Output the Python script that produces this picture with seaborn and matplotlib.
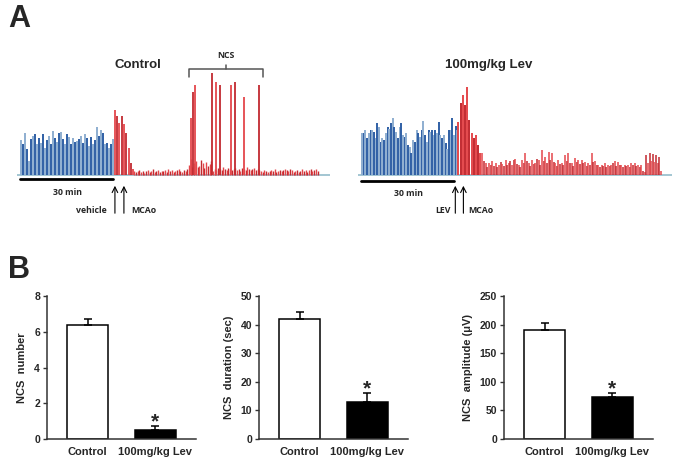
import matplotlib
matplotlib.use("Agg")
import matplotlib.pyplot as plt
import seaborn as sns
import numpy as np

sns.set_style("white")
plt.rcParams['font.family'] = ['Liberation Sans', 'DejaVu Sans']

# ---------------- data ----------------
# panel A traces, spike heights (arbitrary units)
ctrl_base = [35, 31, 42, 26, 14, 36, 39, 41, 31, 37, 32, 41, 27, 35, 39, 31,
             44, 37, 33, 42, 43, 36, 31, 41, 38, 31, 37, 33, 34, 36, 39, 32,
             41, 37, 29, 38, 31, 35, 48, 39, 45, 42, 31, 32, 27, 31, 36]
ctrl_burst = [65, 59, 52, 59, 51, 42, 27, 12, 6]
ctrl_noise = [4, 3, 4, 5, 3, 4, 2, 4, 5, 3, 4, 6, 3, 4, 5, 3, 4, 4, 5, 3, 6, 4,
              5, 3, 4, 5, 6, 4, 3, 5, 4, 6,
              10, 16, 8, 12, 14, 8, 9, 15, 12, 7, 13, 9, 11, 14,
              4, 6, 5, 7, 6, 5, 8, 6, 5, 7, 6, 5, 6, 7, 5, 6, 4, 7, 6, 5, 8, 6,
              5, 6, 7, 5, 6, 5,
              4, 3, 5, 4, 3, 4, 5, 4, 6, 3, 4, 5, 4, 5, 6, 5, 4, 6, 5, 3, 4, 5,
              3, 4, 6, 4, 5, 3, 5, 6, 4, 5, 6, 4]
ncs_t = [55.2, 55.7, 56.4, 61.9, 63.1, 64.5, 68.2, 69.5, 72.2, 77.1]
ncs_h = [57, 83, 90, 102, 93, 90, 90, 93, 78, 90]

lev_base = [42, 42, 45, 37, 42, 45, 45, 43, 37, 52, 48, 33, 37, 35, 42, 48,
            46, 52, 57, 48, 43, 37, 48, 52, 40, 38, 42, 30, 28, 22, 35, 33,
            45, 42, 38, 45, 54, 40, 33, 45, 43, 45, 40, 45, 42, 53, 40, 37,
            40, 32, 26, 45, 45, 57, 40, 49, 45]
lev_burst = [53, 72, 80, 70, 88, 55, 42, 37, 40, 30, 22]
lev_noise = [22, 14, 12, 8, 12, 10, 14, 9, 12, 8, 10, 13, 11, 9, 15, 10, 12, 14,
             10, 15, 16, 11, 10, 8, 15, 12, 22, 14, 12, 9, 15, 11, 12, 16, 15,
             10, 25, 14, 18, 12, 23, 15, 22, 13, 12, 9, 15, 11, 12, 10, 20, 14,
             22, 12, 12, 9, 17, 13, 15, 11, 15, 12, 13, 9, 12, 10, 22, 13, 14,
             10, 10, 8, 10, 9, 12, 8, 10, 9, 10, 12, 14, 9, 13, 10, 10, 8, 10,
             9, 10, 8, 12, 10, 12, 9, 10, 8, 10, 4, 3, 20, 12, 22, 14, 21, 13,
             20, 12, 18, 4]

# panel B bars
groups = ['Control', '100mg/kg Lev']
ncs_number = [6.4, 0.5]
ncs_number_err = [0.3, 0.2]
ncs_duration = [42, 13]
ncs_duration_err = [2.5, 3]
ncs_amplitude = [191, 74]
ncs_amplitude_err = [12, 6]

W, H = 683, 465
fig = plt.figure(figsize=(W / 100, H / 100), dpi=100)

BLUE = ['#8eaed0', '#2f5fa5']
RED = ['#e4474b', '#c22a30']
BASE = '#93bccb'


def spikes(ax, t, h, pal, lw=1.0):
    cols = [pal[i % 2] for i in range(len(h))]
    ax.vlines(t, 0, h, colors=cols, linewidth=lw)


def trace_axes(px0, px1):
    ax = fig.add_axes([px0 / W, 1 - 178 / H, (px1 - px0) / W, 128 / H])
    ax.set_xlim(-1, 100)
    ax.set_ylim(-3, 125)
    ax.axis('off')
    ax.axhline(0, color=BASE, lw=1.2, zorder=0)
    return ax


small = dict(fontsize=6.3, fontweight='bold', family=['Open Sans', 'DejaVu Sans'])

# ---- control trace ----
ax = trace_axes(17, 330)
spikes(ax, np.linspace(0.3, 30, len(ctrl_base)), ctrl_base, BLUE, 1.4)
spikes(ax, np.linspace(30.6, 36.5, len(ctrl_burst)), ctrl_burst, RED, 1.3)
spikes(ax, np.linspace(36.8, 96, len(ctrl_noise)), ctrl_noise, RED, 1.0)
spikes(ax, ncs_t, ncs_h, RED, 1.3)
ax.text(38, 110, 'Control', ha='center', va='center', fontsize=9.5,
        fontweight='bold')
b0, b1 = min(ncs_t) - 0.8, max(ncs_t) + 1.2
bm = (b0 + b1) / 2
ax.plot([b0, b0, b1, b1], [98, 106, 106, 98], color='#555555', lw=1.1,
        clip_on=False)
ax.plot([bm, bm], [106, 110], color='#555555', lw=1.1, clip_on=False)
ax.text(bm, 120, 'NCS', ha='center', va='center', **small)
ax.plot([0, 30], [-4, -4], color='black', lw=2, clip_on=False)
ax.text(15.2, -17, '30 min', ha='center', va='center', **small)
for xa in [30.6, 33.5]:
    ax.annotate('', xy=(xa, -8), xytext=(xa, -41),
                arrowprops=dict(arrowstyle='->', lw=0.8, color='black'),
                annotation_clip=False)
ax.text(27.8, -35, 'vehicle', ha='right', va='center', **small)
ax.text(35.8, -35, 'MCAo', ha='left', va='center', **small)

# ---- levetiracetam trace ----
ax = trace_axes(358, 672)
spikes(ax, np.linspace(0.3, 31, len(lev_base)), lev_base, BLUE, 1.4)
spikes(ax, np.linspace(31.3, 38.4, len(lev_burst)), lev_burst, RED, 1.4)
spikes(ax, np.linspace(39, 96.5, len(lev_noise)), lev_noise, RED, 1.1)
ax.text(41, 110, '100mg/kg Lev', ha='center', va='center', fontsize=9.5,
        fontweight='bold')
ax.plot([0, 30], [-6, -6], color='black', lw=2, clip_on=False)
ax.text(15.2, -18, '30 min', ha='center', va='center', **small)
for xa in [30.3, 32.9]:
    ax.annotate('', xy=(xa, -8), xytext=(xa, -41),
                arrowprops=dict(arrowstyle='->', lw=0.8, color='black'),
                annotation_clip=False)
ax.text(28.8, -35, 'LEV', ha='right', va='center', **small)
ax.text(34.5, -35, 'MCAo', ha='left', va='center', **small)

# ---- bar panels ----
bar_specs = [
    (47, ncs_number, ncs_number_err, 8, 2, 'NCS  number', 0.25),
    (259, ncs_duration, ncs_duration_err, 50, 10, 'NCS  duration (sec)', 1.5),
    (504, ncs_amplitude, ncs_amplitude_err, 250, 50, 'NCS  amplitude (\u03bcV)', 7),
]
for px0, vals, errs, ymax, step, label, star_off in bar_specs:
    ax = fig.add_axes([px0 / W, 1 - 439 / H, 149 / W, 143 / H])
    sns.barplot(x=groups, y=vals, hue=groups, palette=['white', 'black'],
                edgecolor='black', linewidth=1.1, width=0.6, legend=False,
                ax=ax, errorbar=None)
    ax.errorbar([0, 1], vals, yerr=[[0, 0], errs], fmt='none',
                ecolor='black', elinewidth=1.1, capsize=3, capthick=1.1)
    ax.text(1, vals[1] + errs[1] + star_off, '*', ha='center', va='center',
            fontsize=15, fontweight='bold')
    ax.set_xlim(-0.6, 1.6)
    ax.set_ylim(0, ymax)
    ax.set_yticks(np.arange(0, ymax + 1, step))
    sns.despine(ax=ax)
    for s in ['left', 'bottom']:
        ax.spines[s].set_color('#333333')
        ax.spines[s].set_linewidth(1.1)
    ax.tick_params(axis='y', length=3, width=1, color='#333333',
                   labelsize=7.5, pad=2, direction='out', left=True)
    ax.tick_params(axis='x', length=0, labelsize=8, pad=6)
    for t in ax.get_yticklabels() + ax.get_xticklabels():
        t.set_fontweight('bold')
    ax.set_ylabel(label, fontsize=8, fontweight='bold', labelpad=5)

fig.text(8 / W, 1 - 19 / H, 'A', fontsize=22, fontweight='bold', va='center')
fig.text(8 / W, 1 - 270 / H, 'B', fontsize=22, fontweight='bold', va='center')

fig.savefig('out.png', dpi=100)
